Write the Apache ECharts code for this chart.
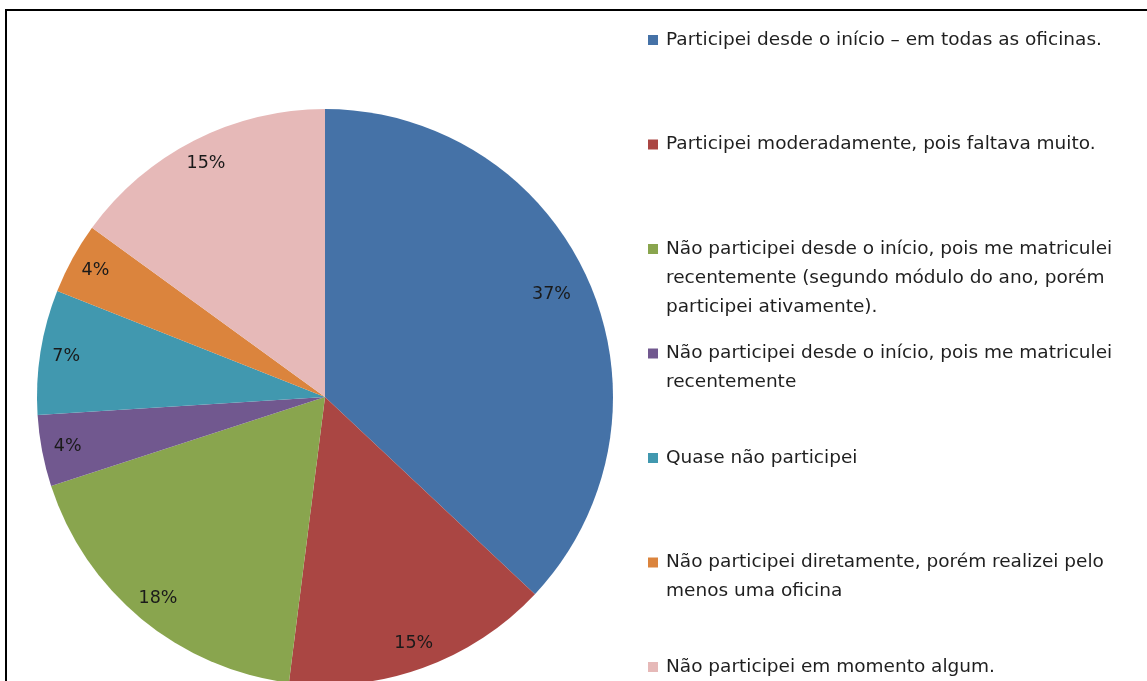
<!DOCTYPE html>
<html><head><meta charset="utf-8">
<script src="https://cdn.jsdelivr.net/npm/echarts@6/dist/echarts.min.js"></script>
<style>html,body{margin:0;padding:0;background:#fff}#c{width:1147px;height:681px}</style>
</head><body><div id="c"></div>
<script>
const categories = [
  'Participei desde o início – em todas as oficinas.',
  'Participei moderadamente, pois faltava muito.',
  'Não participei desde o início, pois me matriculei\nrecentemente (segundo módulo do ano, porém\nparticipei ativamente).',
  'Não participei desde o início, pois me matriculei\nrecentemente',
  'Quase não participei',
  'Não participei diretamente, porém realizei pelo\nmenos uma oficina',
  'Não participei em momento algum.'
];
const percentages = [37, 15, 18, 4, 7, 4, 15];
const colors = ['#4572A7', '#AA4643', '#89A54E', '#71588F', '#4198AF', '#DB843D', '#E6B9B8'];

const FONT = 'DejaVu Sans';
const FS = 18.5;
const LFS = 17.5;
const LH = 29;
const R = 288;
const CENTER = [325, 397];

const chart = echarts.init(document.getElementById('c'), null, {renderer: 'canvas'});

const legends = categories.map((name, i) => ({
  left: 643,
  top: 40 + i * 104.5 - LH / 2,
  orient: 'vertical',
  icon: 'none',
  itemWidth: 0,
  itemHeight: 0,
  itemGap: 0,
  padding: 0,
  selectedMode: false,
  data: [name],
  formatter: n => n.split('\n').map((l, j) => j === 0 ? '{sq|}{t|' + l + '}' : '{t2|' + l + '}').join('\n'),
  textStyle: {
    fontFamily: FONT, fontSize: FS, lineHeight: LH, color: '#1f1f1f',
    rich: {
      sq: {width: 10, height: 10, backgroundColor: colors[i], lineHeight: LH},
      t: {fontFamily: FONT, fontSize: FS, lineHeight: LH, color: '#1f1f1f', padding: [0, 0, 0, 8]},
      t2: {fontFamily: FONT, fontSize: FS, lineHeight: LH, color: '#1f1f1f', padding: [0, 0, 0, 18]}
    }
  }
}));

const pieData = categories.map((n, i) => ({name: n, value: percentages[i], itemStyle: {color: colors[i]}}));
const labelData = categories.map((n, i) => ({name: n, value: percentages[i], itemStyle: {color: 'rgba(0,0,0,0)'}}));

chart.setOption({
  animation: false,
  backgroundColor: '#fff',
  legend: legends,
  graphic: [{
    type: 'polyline', z: 100,
    shape: {points: [[6, 800], [6, 10], [1300, 10]]},
    style: {fill: 'none', stroke: '#000', lineWidth: 2}
  }],
  series: [{
    type: 'pie',
    center: CENTER,
    radius: [0, R],
    startAngle: 90,
    clockwise: true,
    silent: true,
    label: {show: false},
    labelLine: {show: false},
    itemStyle: {borderWidth: 0},
    emphasis: {disabled: true},
    data: pieData
  }, {
    type: 'pie',
    center: CENTER,
    radius: [R - 58, R],
    startAngle: 90,
    clockwise: true,
    silent: true,
    z: 3,
    labelLine: {show: false},
    emphasis: {disabled: true},
    itemStyle: {borderWidth: 0},
    label: {
      show: true, position: 'inside',
      formatter: p => p.value + '%',
      fontFamily: FONT, fontSize: LFS, color: '#1a1a1a'
    },
    labelLayout: p => p.dataIndex === 0
      ? {x: p.labelRect.x + p.labelRect.width / 2 - 14, y: p.labelRect.y + p.labelRect.height / 2 + 2}
      : {},
    data: labelData
  }]
});
</script></body></html>
